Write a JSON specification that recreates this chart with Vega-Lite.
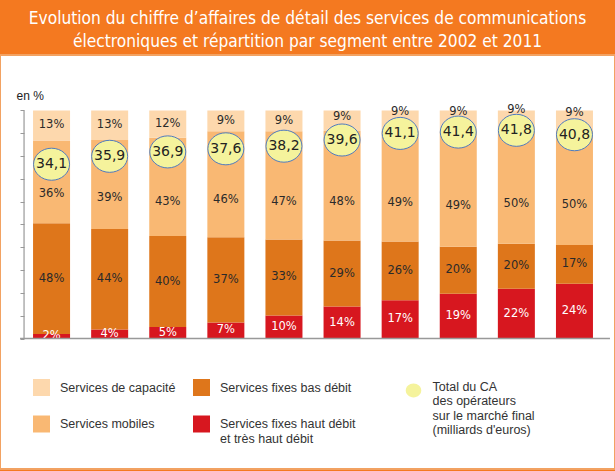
{
  "$schema": "https://vega.github.io/schema/vega-lite/v6.json",
  "autosize": {"type": "none"},
  "width": 615,
  "height": 414,
  "padding": {"left": 0, "right": 0, "top": 55, "bottom": 2},
  "background": "#F47920",
  "title": {
    "text": ["Evolution du chiffre d’affaires de détail des services de communications", "électroniques et répartition par segment entre 2002 et 2011"],
    "anchor": "middle",
    "color": "white",
    "font": "DejaVu Sans Condensed, sans-serif",
    "fontSize": 17.2,
    "fontWeight": "normal",
    "lineHeight": 23,
    "offset": 5
  },
  "datasets": {
    "parts": [
      {"year": "2002", "seg": "Services fixes haut débit et très haut débit", "pct": 2},
      {"year": "2002", "seg": "Services fixes bas débit", "pct": 48},
      {"year": "2002", "seg": "Services mobiles", "pct": 36},
      {"year": "2002", "seg": "Services de capacité", "pct": 13},
      {"year": "2003", "seg": "Services fixes haut débit et très haut débit", "pct": 4},
      {"year": "2003", "seg": "Services fixes bas débit", "pct": 44},
      {"year": "2003", "seg": "Services mobiles", "pct": 39},
      {"year": "2003", "seg": "Services de capacité", "pct": 13},
      {"year": "2004", "seg": "Services fixes haut débit et très haut débit", "pct": 5},
      {"year": "2004", "seg": "Services fixes bas débit", "pct": 40},
      {"year": "2004", "seg": "Services mobiles", "pct": 43},
      {"year": "2004", "seg": "Services de capacité", "pct": 12},
      {"year": "2005", "seg": "Services fixes haut débit et très haut débit", "pct": 7},
      {"year": "2005", "seg": "Services fixes bas débit", "pct": 37},
      {"year": "2005", "seg": "Services mobiles", "pct": 46},
      {"year": "2005", "seg": "Services de capacité", "pct": 9},
      {"year": "2006", "seg": "Services fixes haut débit et très haut débit", "pct": 10},
      {"year": "2006", "seg": "Services fixes bas débit", "pct": 33},
      {"year": "2006", "seg": "Services mobiles", "pct": 47},
      {"year": "2006", "seg": "Services de capacité", "pct": 9},
      {"year": "2007", "seg": "Services fixes haut débit et très haut débit", "pct": 14},
      {"year": "2007", "seg": "Services fixes bas débit", "pct": 29},
      {"year": "2007", "seg": "Services mobiles", "pct": 48},
      {"year": "2007", "seg": "Services de capacité", "pct": 9},
      {"year": "2008", "seg": "Services fixes haut débit et très haut débit", "pct": 17},
      {"year": "2008", "seg": "Services fixes bas débit", "pct": 26},
      {"year": "2008", "seg": "Services mobiles", "pct": 49},
      {"year": "2008", "seg": "Services de capacité", "pct": 9},
      {"year": "2009", "seg": "Services fixes haut débit et très haut débit", "pct": 19},
      {"year": "2009", "seg": "Services fixes bas débit", "pct": 20},
      {"year": "2009", "seg": "Services mobiles", "pct": 49},
      {"year": "2009", "seg": "Services de capacité", "pct": 9},
      {"year": "2010", "seg": "Services fixes haut débit et très haut débit", "pct": 22},
      {"year": "2010", "seg": "Services fixes bas débit", "pct": 20},
      {"year": "2010", "seg": "Services mobiles", "pct": 50},
      {"year": "2010", "seg": "Services de capacité", "pct": 9},
      {"year": "2011", "seg": "Services fixes haut débit et très haut débit", "pct": 24},
      {"year": "2011", "seg": "Services fixes bas débit", "pct": 17},
      {"year": "2011", "seg": "Services mobiles", "pct": 50},
      {"year": "2011", "seg": "Services de capacité", "pct": 9}
    ],
    "totals": [
      {"year": "2002", "total": 34.1},
      {"year": "2003", "total": 35.9},
      {"year": "2004", "total": 36.9},
      {"year": "2005", "total": 37.6},
      {"year": "2006", "total": 38.2},
      {"year": "2007", "total": 39.6},
      {"year": "2008", "total": 41.1},
      {"year": "2009", "total": 41.4},
      {"year": "2010", "total": 41.8},
      {"year": "2011", "total": 40.8}
    ]
  },
  "layer": [
    {
      "layer": [
        {
          "data": {"name": "parts"},
          "transform": [
            {"lookup": "year", "from": {"data": {"name": "totals"}, "key": "year", "fields": ["total"]}},
            {"calculate": "indexof(['Services fixes haut débit et très haut débit','Services fixes bas débit','Services mobiles','Services de capacité'], datum.seg)", "as": "ord"},
            {"stack": "pct", "groupby": ["year"], "sort": [{"field": "ord", "order": "ascending"}], "offset": "normalize", "as": ["y0", "y1"]},
            {"calculate": "datum.seg == 'Services mobiles' ? datum.y0 + 0.35*(datum.y1-datum.y0) : datum.seg == 'Services de capacité' ? min(1, (datum.y0+datum.y1)/2 + max(0, (datum.total-38.2)*0.013)) : (datum.y0+datum.y1)/2", "as": "ly"},
            {"calculate": "datum.pct + '%'", "as": "label"}
          ],
          "layer": [
            {
              "mark": {"type": "bar"},
              "encoding": {
                "x": {
                  "field": "year", "type": "nominal",
                  "scale": {"paddingInner": 0.363, "paddingOuter": 0.474, "align": 0.6},
                  "axis": {"orient": "bottom", "offset": -130, "domain": false, "ticks": false, "tickSize": 0, "labelPadding": 11, "labelAngle": 0, "labelFont": "DejaVu Sans", "labelFontSize": 12, "labelColor": "#222", "title": null}
                },
                "y": {
                  "field": "y0", "type": "quantitative",
                  "scale": {"domain": [-0.572, 1.243], "nice": false, "zero": false},
                  "axis": {"orient": "left", "offset": -24, "values": [0, 0.1, 0.2, 0.3, 0.4, 0.5, 0.6, 0.7, 0.8, 0.9, 1], "domain": false, "labels": false, "ticks": true, "tickSize": 4, "tickColor": "#999999", "tickWidth": 1, "grid": false,
                    "title": "en %", "titleAngle": 0, "titleAlign": "left", "titleBaseline": "middle", "titleX": -8, "titleY": 40, "titleFont": "Liberation Sans", "titleFontSize": 12, "titleFontWeight": "normal", "titleColor": "#222"}
                },
                "y2": {"field": "y1"},
                "color": {
                  "field": "seg", "type": "nominal",
                  "scale": {
                    "domain": ["Services de capacité", "Services mobiles", "Services fixes bas débit", "Services fixes haut débit et très haut débit"],
                    "range": ["#FDD8AD", "#F9B873", "#DE761B", "#D7171F"]
                  },
                  "legend": {
                    "orient": "none", "legendX": 33, "legendY": 324, "title": null, "columns": 2, "columnPadding": 17, "rowPadding": 19.5,
                    "symbolType": "square", "symbolSize": 289, "symbolStrokeWidth": 0, "labelOffset": 10, "padding": 0,
                    "labelFont": "Liberation Sans", "labelFontSize": 12.5, "labelColor": "#333", "labelLimit": 300, "labelBaseline": "middle", "labelLineHeight": 15,
                    "labelExpr": "datum.label == 'Services fixes haut débit et très haut débit' ? ['Services fixes haut débit', 'et très haut débit'] : datum.label"
                  }
                }
              }
            },
            {
              "mark": {"type": "text", "font": "DejaVu Sans", "fontSize": 11.5, "baseline": "middle"},
              "encoding": {
                "x": {"field": "year", "type": "nominal"},
                "y": {"field": "ly", "type": "quantitative"},
                "text": {"field": "label"},
                "color": {"condition": {"test": "datum.seg == 'Services fixes haut débit et très haut débit'", "value": "white"}, "value": "#2a2a2a"}
              }
            }
          ]
        },
        {
          "data": {"values": [{}]},
          "layer": [
            {
              "mark": {"type": "rule", "color": "#999999", "strokeWidth": 1.2, "xOffset": -9},
              "encoding": {
                "x": {"datum": "2002", "type": "nominal", "bandPosition": 0},
                "y": {"datum": 0, "type": "quantitative"},
                "y2": {"datum": 1}
              }
            },
            {
              "mark": {"type": "rule", "color": "#999999", "strokeWidth": 1.5, "xOffset": -13, "x2Offset": 17},
              "encoding": {
                "x": {"datum": "2002", "type": "nominal", "bandPosition": 0},
                "x2": {"datum": "2011", "bandPosition": 1},
                "y": {"datum": 0, "type": "quantitative"}
              }
            }
          ]
        }
      ]
    },
    {
      "data": {"name": "totals"},
      "encoding": {
        "x": {"field": "year", "type": "nominal", "axis": null},
        "y": {"field": "total", "type": "quantitative", "scale": {"domain": [-35.09, 58.9], "nice": false, "zero": false}, "axis": null}
      },
      "layer": [
        {
          "mark": {"type": "point", "filled": true, "fill": "#F5F39C", "stroke": "#4F7BC0", "strokeWidth": 1, "size": 1296, "opacity": 1},
          "encoding": {
            "shape": {
              "datum": "Total du CA des opérateurs sur le marché final (milliards d'euros)", "type": "nominal",
              "scale": {"range": ["M-1,0A1,0.89,0,1,1,1,0A1,0.89,0,1,1,-1,0Z"]},
              "legend": {
                "orient": "none", "legendX": 405, "legendY": 327, "title": null, "padding": 0,
                "symbolSize": 240, "symbolFillColor": "#F5F39C", "symbolStrokeColor": "#222", "symbolStrokeWidth": 1.5,
                "labelOffset": 10.5, "labelFont": "Liberation Sans", "labelFontSize": 12.5, "labelColor": "#333", "labelLimit": 300, "labelBaseline": "alphabetic", "labelLineHeight": 14.4,
                "labelExpr": "['Total du CA', 'des opérateurs', 'sur le marché final', \"(milliards d'euros)\"]"
              }
            }
          }
        },
        {
          "mark": {"type": "text", "font": "DejaVu Sans", "fontSize": 14, "baseline": "middle", "color": "#222"},
          "encoding": {
            "text": {"field": "total", "type": "quantitative", "format": ".1f"}
          }
        }
      ]
    }
  ],
  "resolve": {"scale": {"y": "independent"}},
  "config": {
    "locale": {"number": {"decimal": ",", "thousands": " ", "grouping": [3], "currency": ["", " €"]}},
    "view": {"fill": "white", "stroke": "#F2A262", "strokeWidth": 2}
  }
}
